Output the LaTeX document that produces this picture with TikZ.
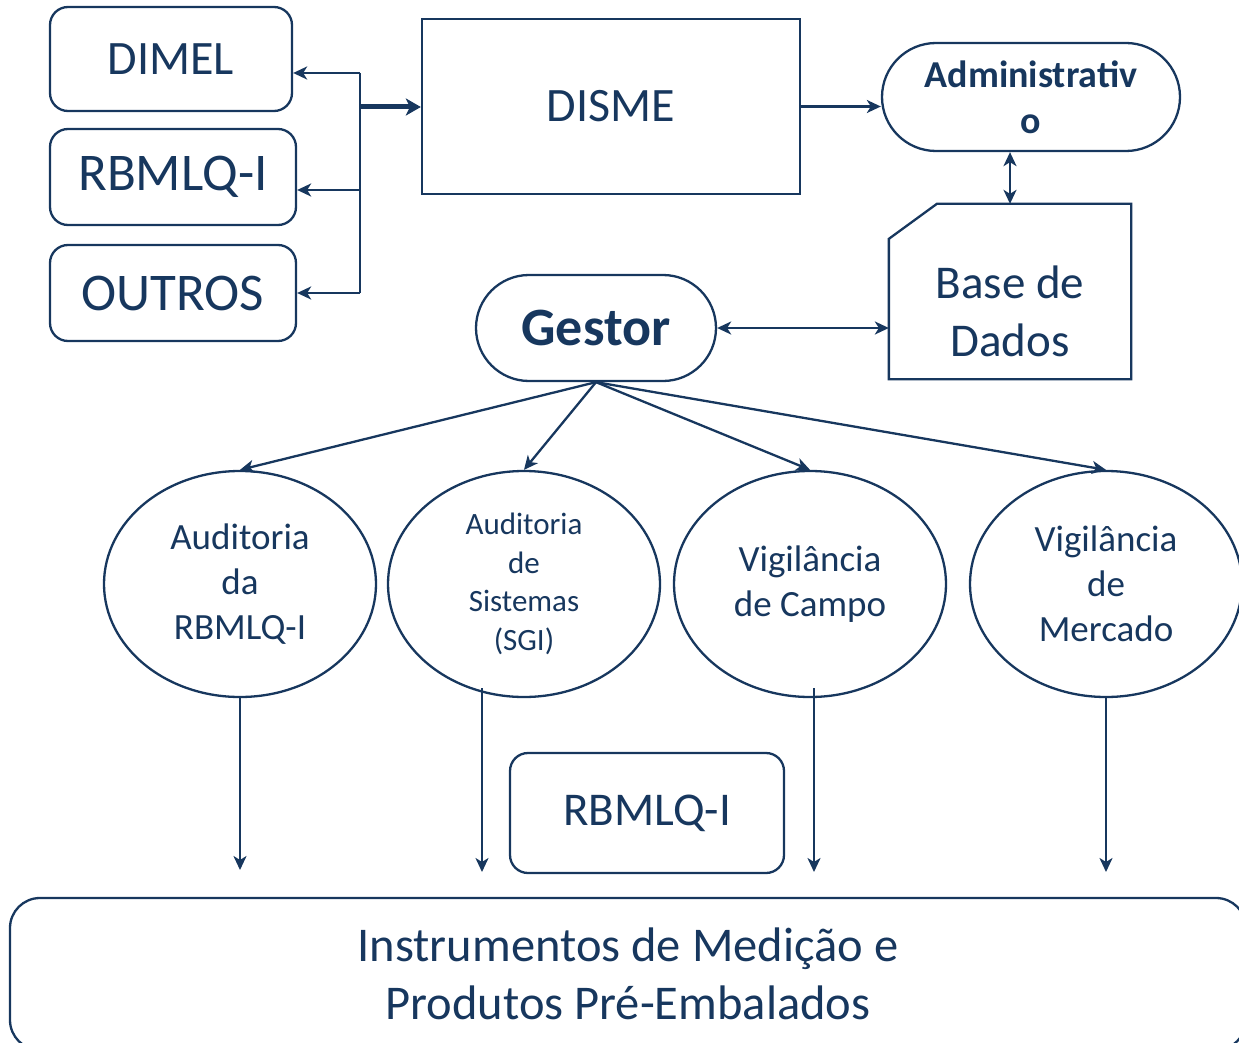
\documentclass[tikz,border=0pt]{standalone}
\usepackage{fontspec}
\setmainfont{Carlito}
\usetikzlibrary{arrows.meta,calc,shapes.geometric}
\definecolor{navy}{RGB}{23,55,94}
\tikzset{
  rbox/.style={draw, rounded corners=18pt, inner sep=0pt, align=center},
  pill/.style={draw, rounded corners=53pt, inner sep=0pt, align=center},
  ell/.style={draw, ellipse, minimum width=272pt, minimum height=226pt, inner sep=0pt, align=center},
  fA/.style={font=\fontsize{48}{58}\selectfont},
  fB/.style={font=\fontsize{53}{64}\selectfont},
  fE/.style={font=\fontsize{37}{45}\selectfont},
  fS/.style={font=\fontsize{31}{38.5}\selectfont},
}
\begin{document}
\begin{tikzpicture}[x=1pt,y=-1pt, line width=2.3pt, color=navy,
  >={Stealth[length=14pt,width=13pt,inset=4pt]}]
\clip (0,0) rectangle (1239,1043);
% top-left boxes
\node[rbox, fA, minimum width=242pt, minimum height=104pt] (dimel) at (171,59) {DIMEL};
\node[rbox, fB, minimum width=246pt, minimum height=96pt] (rbm1) at (173,177) {RBMLQ-I};
\node[rbox, fB, minimum width=246pt, minimum height=96pt] (outros) at (173,293) {OUTROS};
% DISME
\node[draw, fA, minimum width=378pt, minimum height=175pt, inner sep=0pt] (disme) at (611,106.5) {DISME};
% Administrativo
\node[draw, rounded corners=54pt, minimum width=298pt, minimum height=108pt, inner sep=0pt, align=center,
  font=\fontsize{38}{46}\selectfont\bfseries] (adm) at (1031,97) {Administrativ\\o};
% Base de Dados
\node[minimum width=240pt, minimum height=173pt, inner sep=0pt] (base) at (1010,291.5) {};
\draw (base.south west) -- ($(base.north west)+(0,35)$) -- ($(base.north west)+(48,0)$)
  -- (base.north east) -- (base.south east) -- cycle;
\node[align=center, font=\fontsize{47}{58}\selectfont] (basetxt) at (1010,311) {Base de\\Dados};
% Gestor
\node[pill, minimum width=240pt, minimum height=106pt, font=\fontsize{54}{64}\selectfont\bfseries] (gestor) at (596,328) {Gestor};
% ellipses
\node[ell, fE] (e1) at (240,584) {Auditoria\\da\\RBMLQ-I};
\node[ell, fS] (e2) at (524,584) {Auditoria\\de\\Sistemas\\(SGI)};
\node[ell, fE] (e3) at (810,584) {Vigilância\\de Campo};
\node[ell, fE] (e4) at (1106,584) {Vigilância\\de\\Mercado};
% RBMLQ-I bottom
\node[rbox, font=\fontsize{47}{58}\selectfont, minimum width=274pt, minimum height=120pt] (rbm2) at (647,813) {RBMLQ-I};
% bottom box
\node[draw, rounded corners=30pt, minimum width=1236pt, minimum height=152pt, inner sep=0pt, align=center,
  font=\fontsize{48.5}{58}\selectfont] (inst) at (628,974) {Instrumentos de Medição e\\Produtos Pré-Embalados};
% connectors top-left
\coordinate (j1) at (360,73);
\coordinate (j2) at (360,190);
\coordinate (j3) at (360,293);
\coordinate (jm) at (360,107);
\draw (j1) -- (j3);
\draw[->] (j1) -- (j1 -| dimel.east);
\draw[->] (j2) -- (j2 -| rbm1.east);
\draw[->] (j3) -- (j3 -| outros.east);
\draw[line width=5pt, -{Stealth[length=15pt,width=17pt,inset=4pt]}] (jm) -- (jm -| disme.west);
\draw[->] (disme.east) -- (disme.east -| adm.west);
\draw[<->] (base.north) -- (base.north |- adm.south);
\draw[<->] (gestor.east) -- (gestor.east -| base.west);
% fan
\draw[->] (gestor.south) -- (e1.north);
\draw[->] (gestor.south) -- (e2.north);
\draw[->] (gestor.south) -- (e3.north);
\draw[->] (gestor.south) -- (e4.north);
% verticals
\coordinate (s2) at (482,688);
\coordinate (t2) at (482,872);
\coordinate (s3) at (814,688);
\coordinate (t3) at (814,872);
\coordinate (t1) at (240,870);
\coordinate (t4) at (1106,872);
\draw[->] (e1.south) -- (t1);
\draw[->] (s2) -- (t2);
\draw[->] (s3) -- (t3);
\draw[->] (e4.south) -- (t4);
\end{tikzpicture}
\end{document}
